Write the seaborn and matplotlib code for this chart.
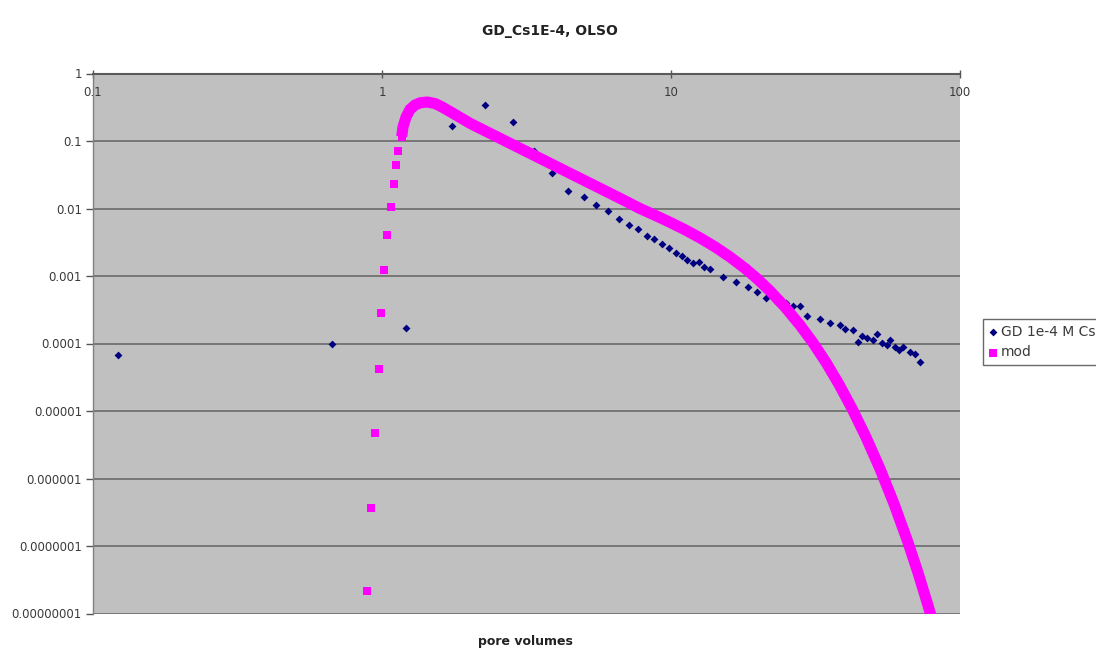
import numpy as np
import pandas as pd
import seaborn as sns
import matplotlib
matplotlib.use("Agg")
import matplotlib.pyplot as plt
from matplotlib.ticker import NullLocator

# ---------------- data ----------------
gd_x = [0.122, 0.670, 1.21, 1.742, 2.28, 2.83, 3.35, 3.87, 4.41, 5.00, 5.51, 6.04,
        6.60, 7.13, 7.67, 8.24, 8.73, 9.29, 9.83, 10.4, 10.9, 11.4, 11.95, 12.5,
        13.0, 13.6, 15.1, 16.8, 18.4, 19.9, 21.4, 23.3, 25.0, 26.5, 28.0, 29.5,
        32.8, 35.5, 38.4, 40.0, 42.7, 44.5, 45.8, 47.6, 50.1, 51.6, 53.6, 55.9,
        57.3, 59.6, 61.5, 63.7, 67.1, 69.8, 72.7]
gd_y = [6.76e-5, 9.8e-5, 1.71e-4, 0.167, 0.341, 0.190, 0.0723, 0.0341, 0.01786,
        0.01496, 0.01127, 0.00925, 0.00694, 0.00564, 0.00492, 0.00392, 0.00350,
        0.00300, 0.00257, 0.00221, 0.00198, 0.00173, 0.00157, 0.00163, 0.00135,
        0.00126, 0.000977, 0.000824, 0.000680, 0.000585, 0.000468, 0.000412,
        0.000402, 0.000360, 0.000360, 0.000253, 0.000228, 0.000203, 0.000188,
        0.000164, 0.000158, 0.000106, 0.000129, 0.000119, 0.000113, 0.000138,
        0.000101, 0.000095, 0.000113, 8.97e-5, 8.0e-5, 8.97e-5, 7.56e-5, 6.98e-5,
        5.38e-5]

mod_x = [0.889, 0.914, 0.946, 0.974, 0.990, 1.014, 1.041, 1.072, 1.098, 1.118,
         1.139, 1.170, 1.182, 1.211, 1.250, 1.301, 1.354, 1.431, 1.525, 1.613,
         1.719, 1.877, 2.016, 2.364, 2.773, 3.522, 4.472, 5.680, 6.661, 7.810,
         8.805, 9.920, 11.18, 12.60, 14.20, 16.00, 18.04, 19.85, 22.01, 24.80,
         27.95, 31.00, 34.39, 38.14, 42.30, 47.29, 52.88, 59.11, 66.09, 71.56,
         77.52, 80.66]
mod_y = [2.18e-8, 3.69e-7, 4.77e-6, 4.24e-5, 2.80e-4, 1.23e-3, 4.05e-3, 1.04e-2,
         0.0233, 0.0437, 0.0718, 0.116, 0.1612, 0.2268, 0.2929, 0.3415, 0.3680,
         0.3782, 0.3594, 0.3190, 0.2735, 0.2192, 0.1829, 0.1300, 0.0924, 0.0554,
         0.0332, 0.01992, 0.01416, 0.0100, 0.007931, 0.006247, 0.004845, 0.003674,
         0.002703, 0.001915, 0.001297, 0.000915, 0.000600, 0.0003475, 0.000187,
         0.0001026, 5.24e-5, 2.48e-5, 1.087e-5, 4.09e-6, 1.389e-6, 4.22e-7,
         1.129e-7, 4.02e-8, 1.312e-8, 7.3e-9]

series_labels = ["GD 1e-4 M Cs", "mod"]
x_ticks = [0.1, 1, 10, 100]
x_tick_labels = ["0.1", "1", "10", "100"]
y_ticks = [1, 0.1, 0.01, 0.001, 0.0001, 0.00001, 0.000001, 0.0000001, 0.00000001]
y_tick_labels = ["1", "0.1", "0.01", "0.001", "0.0001", "0.00001", "0.000001",
                 "0.0000001", "0.00000001"]
title_text = "GD_Cs1E-4, OLSO"
xlabel_text = "pore volumes"

gd = pd.DataFrame({"x": gd_x, "y": gd_y})
mod = pd.DataFrame({"x": mod_x, "y": mod_y})

# ---------------- styling ----------------
sns.set_theme(style="white")
plt.rcParams["font.family"] = ["DejaVu Sans"]
text_col = "#3a3a3a"

W, H = 1096, 652
fig = plt.figure(figsize=(W / 100, H / 100), dpi=100)
left, right, top, bottom = 93, 960, 73.5, 613.5
ax = fig.add_axes([left / W, 1 - bottom / H, (right - left) / W, (bottom - top) / H])
ax.set_facecolor("#c0c0c0")
ax.set_xscale("log")
ax.set_yscale("log")

# model: the densely sampled part forms a thick band; every point also as a square
dense = mod[mod["x"] >= 1.17]
sns.lineplot(data=dense, x="x", y="y", color="#ff00ff", linewidth=8,
             estimator=None, sort=False, ax=ax, legend=False, zorder=4,
             solid_capstyle="butt", solid_joinstyle="round")
sns.scatterplot(data=mod, x="x", y="y", marker="s", s=30, color="#ff00ff",
                linewidth=0, ax=ax, label=series_labels[1], zorder=5)
sns.scatterplot(data=gd, x="x", y="y", marker="D", s=16, color="#000080",
                linewidth=0, ax=ax, label=series_labels[0], zorder=3)

ax.set_xlim(0.1, 100)
ax.set_ylim(1e-8, 1)
ax.set_xlabel("")
ax.set_ylabel("")

# x axis at top, labels inside the plot just below the line
ax.xaxis.tick_top()
ax.set_xticks(x_ticks, labels=x_tick_labels)
ax.xaxis.set_minor_locator(NullLocator())
ax.tick_params(axis="x", which="major", top=True, bottom=False, labeltop=True,
               labelbottom=False, direction="inout", length=6, width=1,
               color="#555555", pad=-21, labelsize=8.5, labelcolor=text_col)

ax.set_yticks(y_ticks, labels=y_tick_labels)
ax.yaxis.set_minor_locator(NullLocator())
ax.tick_params(axis="y", which="major", left=True, direction="out", length=5,
               width=1, color="#555555", pad=3, labelsize=8.5, labelcolor=text_col)

ax.grid(False)
ax.yaxis.grid(True, color="#6a6a6a", linewidth=1.2)
ax.set_axisbelow(True)

for s in ["right", "bottom"]:
    ax.spines[s].set_visible(False)
ax.spines["top"].set_color("#5a5a5a")
ax.spines["top"].set_linewidth(1.5)
ax.spines["left"].set_color("#808080")
ax.spines["left"].set_linewidth(1.0)

# legend (runs off the right edge, as in the reference)
handles, labels = ax.get_legend_handles_labels()
hmap = dict(zip(labels, handles))
leg = ax.legend([hmap[series_labels[0]], hmap[series_labels[1]]], series_labels,
                loc="upper left", bbox_to_anchor=(983 / W, 1 - 319 / H),
                bbox_transform=fig.transFigure, frameon=True, fancybox=False,
                fontsize=10, handletextpad=0.2, handlelength=0.7, borderpad=0.4,
                labelspacing=0.5, borderaxespad=0)
leg.get_frame().set_edgecolor("#444444")
leg.get_frame().set_linewidth(1.0)
leg.get_frame().set_facecolor("white")
for t in leg.get_texts():
    t.set_color(text_col)

fig.text(550 / W, 1 - 31 / H, title_text, ha="center", va="center",
         fontsize=10, fontweight="bold", color="#222222")
fig.text(525 / W, 1 - 642 / H, xlabel_text, ha="center", va="center",
         fontsize=9, fontweight="bold", color="#222222")

fig.savefig("out.png", dpi=100)
